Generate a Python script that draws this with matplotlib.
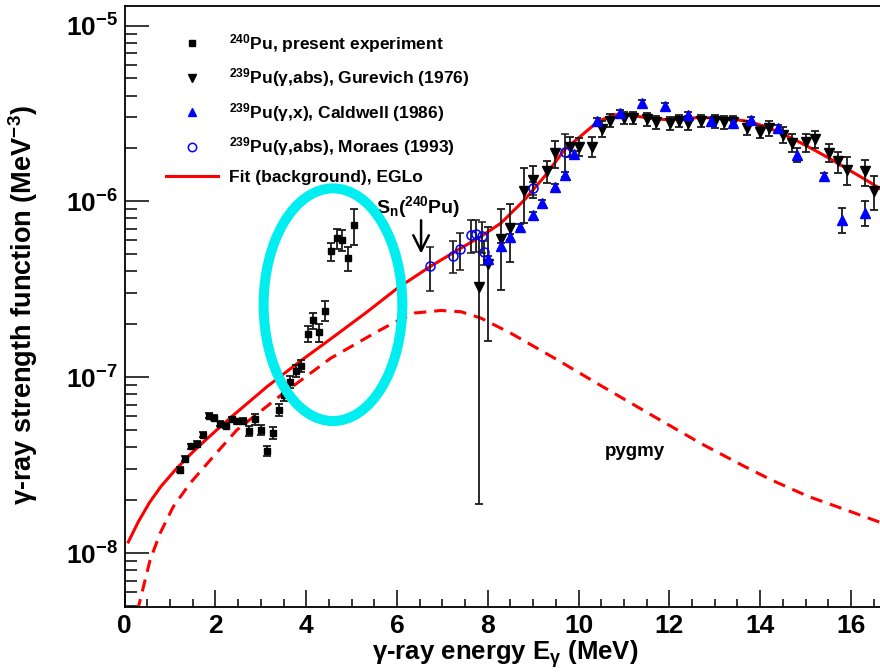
import matplotlib
matplotlib.use("Agg")
import matplotlib.pyplot as plt
from matplotlib.lines import Line2D
from matplotlib.patches import Ellipse
from matplotlib.ticker import MultipleLocator, LogLocator, NullFormatter

# 240Pu, present experiment (Oslo method)
present_e = [1.21, 1.33, 1.46, 1.60, 1.72, 1.85, 1.97, 2.10, 2.23, 2.36, 2.48,
             2.61, 2.74, 2.87, 3.00, 3.13, 3.26, 3.39, 3.51, 3.64, 3.77, 3.89,
             4.03, 4.15, 4.28, 4.41, 4.54, 4.67, 4.79, 4.93, 5.05]
present_f = [2.98e-8, 3.45e-8, 4.06e-8, 4.20e-8, 4.73e-8, 6.07e-8, 5.91e-8,
             5.46e-8, 5.32e-8, 5.78e-8, 5.63e-8, 5.63e-8, 4.96e-8, 5.78e-8,
             5.01e-8, 3.83e-8, 4.82e-8, 6.53e-8, 7.98e-8, 9.42e-8, 1.084e-7,
             1.167e-7, 1.767e-7, 2.11e-7, 1.80e-7, 2.39e-7, 5.20e-7, 6.16e-7,
             6.05e-7, 4.74e-7, 7.34e-7]
present_err = [1.0e-9, 1.1e-9, 1.3e-9, 1.4e-9, 1.6e-9, 2.0e-9, 2.0e-9, 1.8e-9,
               1.8e-9, 1.9e-9, 1.9e-9, 2.3e-9, 3.1e-9, 4.2e-9, 3.3e-9, 2.5e-9,
               3.8e-9, 5.1e-9, 6.2e-9, 7.3e-9, 8.5e-9, 9.1e-9, 1.84e-8, 2.2e-8,
               2.1e-8, 3.1e-8, 6.1e-8, 8.0e-8, 7.9e-8, 7.4e-8, 1.7e-7]

# 239Pu(g,abs), Gurevich (1976)
gur_e = [7.80, 8.01, 8.29, 8.50, 8.80, 9.00, 9.30, 9.49, 9.82, 10.00, 10.30,
         10.51, 10.70, 11.00, 11.20, 11.51, 11.71, 12.01, 12.21, 12.40, 12.70,
         13.00, 13.20, 13.41, 13.70, 14.00, 14.20, 14.50, 14.70, 15.01, 15.21,
         15.51, 15.71, 15.91, 16.30, 16.50]
gur_f = [3.25e-7, 4.4e-7, 6.1e-7, 7.1e-7, 1.15e-6, 1.32e-6, 1.48e-6, 1.88e-6,
         2.05e-6, 2.05e-6, 2.05e-6, 2.58e-6, 2.88e-6, 2.99e-6, 2.99e-6, 2.94e-6,
         2.82e-6, 2.79e-6, 2.87e-6, 2.80e-6, 2.88e-6, 2.86e-6, 2.82e-6, 2.84e-6,
         2.63e-6, 2.48e-6, 2.60e-6, 2.40e-6, 2.16e-6, 2.17e-6, 2.27e-6, 1.89e-6,
         1.69e-6, 1.51e-6, 1.48e-6, 1.14e-6]
gur_err = [3.06e-7, 2.8e-7, 2.95e-7, 2.55e-7, 4.0e-7, 2.8e-7, 2.15e-7, 3.3e-7,
           2.65e-7, 2.4e-7, 2.6e-7, 2.7e-7, 2.45e-7, 2.5e-7, 2.5e-7, 2.5e-7,
           2.4e-7, 2.4e-7, 2.2e-7, 2.4e-7, 2.3e-7, 2.4e-7, 2.4e-7, 2.2e-7,
           2.4e-7, 2.0e-7, 2.6e-7, 2.6e-7, 2.5e-7, 2.5e-7, 2.5e-7, 2.2e-7,
           2.3e-7, 2.7e-7, 2.5e-7, 2.5e-7]

# 239Pu(g,x), Caldwell (1986)
cal_e = [8.01, 8.29, 8.50, 8.70, 9.00, 9.20, 9.49, 9.70, 9.90, 10.41, 10.91,
         11.40, 11.90, 12.40, 12.91, 13.41, 13.81, 14.40, 14.81, 15.41, 15.81,
         16.30]
cal_f = [4.70e-7, 5.55e-7, 6.26e-7, 7.13e-7, 8.40e-7, 9.79e-7, 1.212e-6,
         1.418e-6, 1.856e-6, 2.851e-6, 3.167e-6, 3.628e-6, 3.470e-6, 3.113e-6,
         2.851e-6, 2.79e-6, 2.904e-6, 2.615e-6, 1.843e-6, 1.387e-6, 7.87e-7,
         8.62e-7]
cal_err = [1.9e-8, 2.2e-8, 2.5e-8, 2.9e-8, 3.4e-8, 3.9e-8, 4.8e-8, 5.7e-8,
           7.4e-8, 1.1e-7, 1.3e-7, 1.5e-7, 1.4e-7, 1.2e-7, 1.1e-7, 1.1e-7,
           1.2e-7, 1.0e-7, 1.7e-7, 7.0e-8, 1.27e-7, 1.4e-7]

# 239Pu(g,abs), Moraes (1993)
mor_e = [6.73, 7.24, 7.39, 7.64, 7.74, 7.88, 7.92, 9.00, 9.70]
mor_f = [4.30e-7, 4.92e-7, 5.35e-7, 6.44e-7, 6.50e-7, 6.38e-7, 5.15e-7,
         1.19e-6, 1.90e-6]
mor_err = [1.2e-7, 1.0e-7, 1.26e-7, 1.36e-7, 1.36e-7, 1.3e-7, 0.8e-7,
           1.0e-7, 5.2e-7]

# EGLO background fit
fit_e = [0.08, 0.30, 0.55, 0.80, 1.10, 1.40, 1.66, 2.00, 2.40, 3.14, 3.91,
         4.61, 5.35, 6.01, 6.74, 7.41, 7.85, 8.29, 8.81, 9.25, 9.69, 10.06,
         10.43, 10.79, 11.16, 11.53, 11.90, 12.27, 12.64, 13.00, 13.37, 13.74,
         14.11, 14.48, 14.84, 15.21, 15.58, 15.95, 16.32, 16.68]
fit_f = [1.16e-8, 1.51e-8, 1.95e-8, 2.40e-8, 2.95e-8, 3.55e-8, 4.12e-8,
         4.95e-8, 6.11e-8, 8.87e-8, 1.259e-7, 1.706e-7, 2.366e-7, 3.214e-7,
         4.28e-7, 5.43e-7, 6.32e-7, 7.53e-7, 1.022e-6, 1.387e-6, 1.968e-6,
         2.366e-6, 2.851e-6, 3.113e-6, 3.09e-6, 2.98e-6, 2.92e-6, 2.94e-6,
         3.00e-6, 2.98e-6, 2.94e-6, 2.85e-6, 2.67e-6, 2.43e-6, 2.19e-6,
         1.95e-6, 1.726e-6, 1.514e-6, 1.33e-6, 1.166e-6]

# pygmy component
pyg_e = [0.28, 0.56, 0.78, 1.07, 1.44, 1.92, 2.47, 3.50, 4.54, 5.57, 6.00,
         6.38, 6.97, 7.41, 7.85, 8.51, 9.47, 10.50, 11.60, 12.71, 13.59, 14.25,
         15.07, 15.80, 16.61, 16.68]
pyg_f = [4.7e-9, 9.16e-9, 1.30e-8, 1.84e-8, 2.50e-8, 3.47e-8, 5.02e-8, 8.13e-8,
         1.285e-7, 1.824e-7, 2.09e-7, 2.32e-7, 2.40e-7, 2.36e-7, 2.17e-7,
         1.78e-7, 1.285e-7, 8.95e-8, 6.12e-8, 4.19e-8, 3.18e-8, 2.61e-8,
         2.10e-8, 1.80e-8, 1.51e-8, 1.49e-8]

S_N = 6.53

plt.rcParams["font.family"] = ["Liberation Sans", "DejaVu Sans"]
plt.rcParams["font.weight"] = "bold"
plt.rcParams["axes.labelweight"] = "bold"
plt.rcParams["mathtext.fontset"] = "custom"
plt.rcParams["mathtext.rm"] = "Liberation Sans:bold"
plt.rcParams["mathtext.it"] = "Liberation Sans:bold"
plt.rcParams["mathtext.bf"] = "Liberation Sans:bold"
plt.rcParams["mathtext.default"] = "rm"

fig = plt.figure(figsize=(8.8, 6.72), dpi=100)
ax = fig.add_axes([0.1417, 0.0967, 0.8603, 0.8943])

ax.plot(fit_e, fit_f, color="red", lw=2.2, zorder=2)
ax.plot(pyg_e, pyg_f, color="red", lw=2.2, ls=(0, (4, 2.6)), zorder=2)

ebar = dict(ecolor="#1a1a1a", elinewidth=1.3, capsize=3, capthick=1.3,
            linestyle="none", zorder=3)
ax.errorbar(gur_e, gur_f, yerr=gur_err, fmt="v", color="black", ms=6.5, **ebar)
ax.errorbar(cal_e, cal_f, yerr=cal_err, fmt="^", color="blue", ms=6.5, **ebar)
ax.errorbar(mor_e, mor_f, yerr=mor_err, fmt="o", mfc="none", mec="blue",
            mew=1.1, ms=6.5, **ebar)
ax.errorbar(present_e, present_f, yerr=present_err, fmt="s", color="black",
            ms=5, **ebar)

ax.add_patch(Ellipse((0.2751, 0.503), 0.1832, 0.3872, transform=ax.transAxes,
                     fill=False, ec="#00eef0", lw=7.2, zorder=5))

ax.annotate("", xy=(S_N, 4.87e-7), xytext=(S_N, 8.1e-7),
            arrowprops=dict(arrowstyle="->", color="black", lw=1.8,
                            mutation_scale=28))
ax.text(5.53, 8.6e-7, "S$_{\\rm n}$($^{240}$Pu)", fontsize=14,
        ha="left", va="baseline")
ax.text(11.23, 3.77e-8, "pygmy", fontsize=13.5, ha="center", va="center")

ax.set_yscale("log")
ax.set_xlim(0, 16.68)
ax.set_ylim(4.95e-9, 1.29e-5)

ax.xaxis.set_major_locator(MultipleLocator(2))
ax.xaxis.set_minor_locator(MultipleLocator(0.5))
ax.yaxis.set_major_locator(LogLocator(base=10))
ax.yaxis.set_minor_locator(LogLocator(base=10, subs=range(2, 10)))
ax.yaxis.set_minor_formatter(NullFormatter())

ax.tick_params(axis="both", which="both", direction="in", width=1.1,
               labelsize=19, top=False, right=False)
ax.tick_params(axis="y", which="major", length=17, pad=5)
ax.tick_params(axis="y", which="minor", length=8.5)
ax.tick_params(axis="x", which="major", length=12, pad=5)
ax.tick_params(axis="x", which="minor", length=6)
for side in ["left", "bottom", "top"]:
    ax.spines[side].set_linewidth(1.3)
ax.spines["right"].set_visible(False)

ax.set_xlabel("γ-ray energy E$_{γ}$ (MeV)", fontsize=18.5)
ax.xaxis.set_label_coords(0.503, -0.0875)
ax.xaxis.label.set_va("baseline")
ax.set_ylabel("γ-ray strength function (MeV$^{-3}$)", fontsize=19.5)
ax.yaxis.set_label_coords(-0.112, 0.502)

handles = [
    Line2D([], [], marker="s", color="black", ls="none", ms=5),
    Line2D([], [], marker="v", color="black", ls="none", ms=6),
    Line2D([], [], marker="^", color="blue", ls="none", ms=6),
    Line2D([], [], marker="o", mfc="none", mec="blue", mew=1.1, ls="none", ms=6),
    Line2D([], [], color="red", lw=2.2),
]
labels = [
    "$^{240}$Pu, present experiment",
    "$^{239}$Pu(γ,abs), Gurevich (1976)",
    "$^{239}$Pu(γ,x), Caldwell (1986)",
    "$^{239}$Pu(γ,abs), Moraes (1993)",
    "Fit (background), EGLo",
]
ax.legend(handles, labels, loc="upper left", bbox_to_anchor=(0.045, 0.968),
          frameon=False, fontsize=12.5, handlelength=3.0, handletextpad=0.65,
          labelspacing=0.66, borderaxespad=0)

fig.savefig("out.png", dpi=100)
